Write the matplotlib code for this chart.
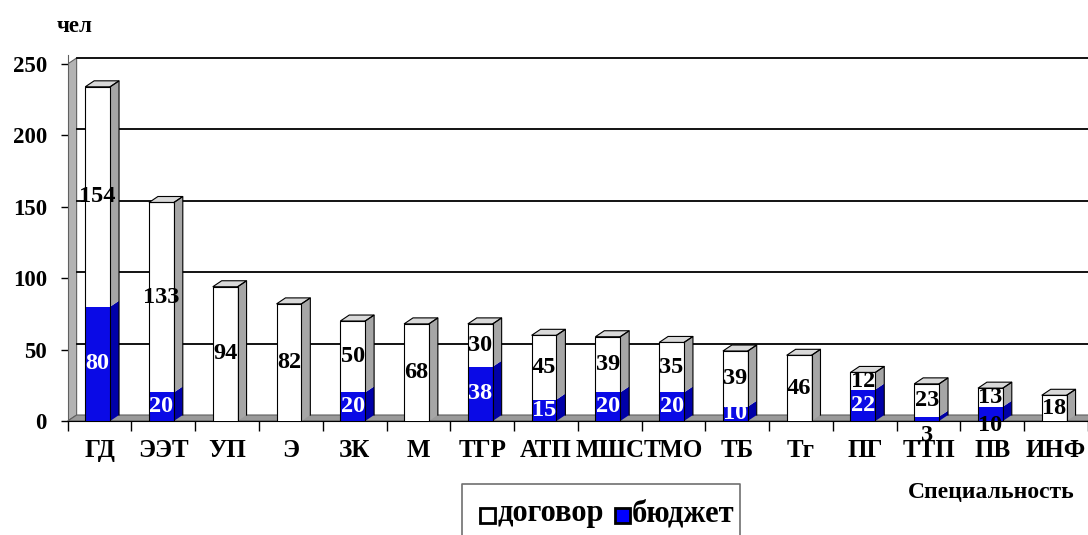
import numpy as np
import matplotlib.pyplot as plt
from matplotlib.patches import Polygon, Rectangle

plt.rcParams["font.family"] = ["Liberation Serif", "DejaVu Serif"]
plt.rcParams["font.weight"] = "bold"

categories = ["ГД", "ЭЭТ", "УП", "Э", "ЗК", "М", "ТГР", "АТП", "МШС", "ТМО",
              "ТБ", "Тг", "ПГ", "ТТП", "ПВ", "ИНФ"]
budget = [80, 20, 0, 0, 20, 0, 38, 15, 20, 20, 10, 0, 22, 3, 10, 0]
contract = [154, 133, 94, 82, 50, 68, 30, 45, 39, 35, 39, 46, 12, 23, 13, 18]
yticks = [0, 50, 100, 150, 200, 250]

BLUE = "#0a0ae6"
BLUE_SIDE = "#0000a8"
GRAY_SIDE = "#a6a6a6"
GRAY_TOP = "#d9d9d9"

fig = plt.figure(figsize=(10.88, 5.35), dpi=100)
ax = fig.add_axes([67.7 / 1088, 114 / 535, 1 - 67.7 / 1088, 365.6 / 535])
x = np.arange(len(categories))
ax.set_xlim(-0.5, len(categories) - 0.51)
ax.set_ylim(0, 256)

dx, dy = 0.14, 4.2      # 3d depth in data units
w = 0.39
xc = x - 0.03

# back wall, floor, gridlines
x0, x1 = -0.5, len(categories) - 0.51
ax.add_patch(Polygon([(x0, 0), (x0 + dx, dy), (x0 + dx, 250 + dy), (x0, 250)],
                     closed=True, fc="#b3b3b3", ec="#606060", lw=0.8, zorder=1))
ax.add_patch(Polygon([(x0, 0), (x1, 0), (x1 + dx, dy), (x0 + dx, dy)],
                     closed=True, fc="#9a9a9a", ec="#606060", lw=0.8, zorder=1, clip_on=False))
for v in yticks[1:]:
    ax.plot([x0 + dx, x1 + 1], [v + dy, v + dy], color="black", lw=1.3, zorder=1)

# bars: front faces
ax.bar(xc, budget, w, color=BLUE, edgecolor="none", zorder=3)
ax.bar(xc, contract, w, bottom=budget, color="white", edgecolor="none", zorder=3)

for i in range(len(categories)):
    b = budget[i]
    t = b + contract[i]
    l, r = xc[i] - w / 2, xc[i] + w / 2
    # side faces
    if b > 0:
        ax.add_patch(Polygon([(r, 0), (r + dx, dy), (r + dx, b + dy), (r, b)],
                             closed=True, fc=BLUE_SIDE, ec="none", zorder=3))
    ax.add_patch(Polygon([(r, b), (r + dx, b + dy), (r + dx, t + dy), (r, t)],
                         closed=True, fc=GRAY_SIDE, ec="none", zorder=3))
    # top face
    ax.add_patch(Polygon([(l, t), (l + dx, t + dy), (r + dx, t + dy), (r, t)],
                         closed=True, fc=GRAY_TOP, ec="black", lw=0.8, zorder=4))
    # outlines
    ax.plot([l, l, r, r], [0, t, t, 0], color="black", lw=0.8, zorder=4)
    ax.plot([r, r + dx, r + dx], [t, t + dy, dy], color="black", lw=0.8, zorder=4)

# value labels
lbl_kw = dict(ha="center", va="center", fontsize=17.5, fontweight="bold", zorder=6)
below = {13: -10, 14: -3.5}
for i in range(len(categories)):
    b, c = budget[i], contract[i]
    ax.text(xc[i], b + c / 2, str(c), color="black", **lbl_kw)
    if b > 0:
        if i in below:
            ax.text(xc[i], below[i], str(b), color="black", clip_on=False, **lbl_kw)
        else:
            ax.text(xc[i], b / 2, str(b), color="white", **lbl_kw)

# axes styling
for s in ["top", "right"]:
    ax.spines[s].set_visible(False)
ax.spines["left"].set_color("#606060")
ax.spines["bottom"].set_color("black")
ax.set_yticks(yticks)
ax.set_yticklabels([str(v) for v in yticks], fontsize=16.5, fontweight="bold")
ax.tick_params(axis="y", length=5, width=1, pad=10)
ax.set_xticks(np.arange(len(categories) + 1) - 0.5, minor=True)
ax.set_xticks(x)
ax.set_xticklabels(categories, fontsize=18, fontweight="bold")
ax.tick_params(axis="x", which="major", length=0, pad=13)
ax.tick_params(axis="x", which="minor", length=7, width=1)

fig.text(57 / 1088, 1 - 27 / 535, "чел", fontsize=16.5, fontweight="bold", va="center")
fig.text(1075 / 1088, 1 - 493 / 535, "Специальность", fontsize=17,
         fontweight="bold", ha="right", va="center")

# legend box
lx0, ly0 = 462 / 1088, 0.0
lax = fig.add_axes([lx0, ly0, (740 - 462) / 1088, (535 - 483) / 535])
lax.set_xlim(0, 278)
lax.set_ylim(52, 0)
lax.axis("off")
lax.plot([0, 0, 278, 278], [60, 0.5, 0.5, 60], color="#707070", lw=1.2, clip_on=False)
lax.add_patch(Rectangle((18, 25), 15, 15, fc="white", ec="black", lw=2))
lax.text(36, 31, "договор", fontsize=22, fontweight="bold", va="center")
lax.add_patch(Rectangle((153, 25), 15, 15, fc="blue", ec="black", lw=2))
lax.text(170, 31, "бюджет", fontsize=22, fontweight="bold", va="center")

fig.savefig("out.png", dpi=100)
